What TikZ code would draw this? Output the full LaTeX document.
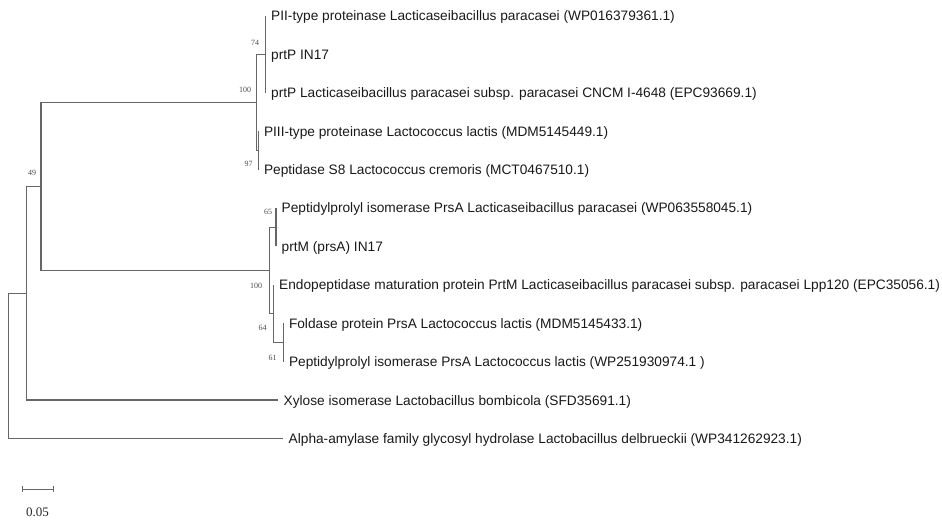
\documentclass[tikz,border=0pt]{standalone}
\usepackage{fontspec}
\setmainfont{Liberation Sans}
\newfontfamily\numserif{Liberation Serif}
\newcommand{\leaffont}{\fontsize{13.7}{16}\selectfont}
\newcommand{\bootfont}{\numserif\fontsize{8}{9}\selectfont}
\newcommand{\scalefont}{\numserif\fontsize{13}{15}\selectfont}
\tikzset{
  leaf/.style={anchor=base west, inner sep=0pt, font=\leaffont, text=black!90},
  boot/.style={inner sep=0pt, font=\bootfont, text=black!70},
  branch/.style={draw=black!60, line width=1.1pt},
}
\begin{document}
\begin{tikzpicture}[x=1pt,y=-1pt]
\useasboundingbox (0,0) rectangle (942,521);
% leaf tips
\coordinate (t1) at (265.5,16);
\coordinate (t2) at (265.5,54.4);
\coordinate (t3) at (265.5,92.8);
\coordinate (t4) at (258.3,131.2);
\coordinate (t5) at (258.3,169.6);
\coordinate (t6) at (276,208);
\coordinate (t7) at (276,246.4);
\coordinate (t8) at (273.5,284.8);
\coordinate (t9) at (283.3,323.2);
\coordinate (t10) at (283.3,361.6);
\coordinate (t11) at (278,400);
\coordinate (t12) at (283,438.4);
% internal nodes
\coordinate (n74) at (265.5,54.4);
\coordinate (n97) at (258.3,150.4);
\coordinate (n100a) at (256.5,102.4);
\coordinate (n65) at (276,227.2);
\coordinate (n61) at (283.3,342.4);
\coordinate (n64) at (273.5,313.6);
\coordinate (n100b) at (269.5,270.4);
\coordinate (n49) at (41,186.4);
\coordinate (nx) at (26.7,293.2);
\coordinate (root) at (8.3,365.8);
% branches
\draw[branch] (n74) |- (t1);
\draw[branch] (n74) |- (t2);
\draw[branch] (n74) |- (t3);
\draw[branch] (n97) |- (t4);
\draw[branch] (n97) |- (t5);
\draw[branch] (n100a) |- (n74);
\draw[branch] (n100a) |- (n97);
\draw[branch] (n65) |- (t6);
\draw[branch] (n65) |- (t7);
\draw[branch] (n61) |- (t9);
\draw[branch] (n61) |- (t10);
\draw[branch] (n64) |- (t8);
\draw[branch] (n64) |- (n61);
\draw[branch] (n100b) |- (n65);
\draw[branch] (n100b) |- (n64);
\draw[branch] (n49) |- (n100a);
\draw[branch] (n49) |- (n100b);
\draw[branch] (nx) |- (n49);
\draw[branch] (nx) |- (t11);
\draw[branch] (root) |- (nx);
\draw[branch] (root) |- (t12);
% leaf labels
\node[leaf] (l1) at ([xshift=5.5pt,yshift=-5pt]t1) {PII-type proteinase Lacticaseibacillus paracasei (WP016379361.1)};
\node[leaf] (l2) at ([xshift=5.5pt,yshift=-5pt]t2) {prtP IN17};
\node[leaf] (l3) at ([xshift=5.5pt,yshift=-5pt]t3) {prtP Lacticaseibacillus paracasei subsp. paracasei CNCM I-4648 (EPC93669.1)};
\node[leaf] (l4) at ([xshift=5.5pt,yshift=-5pt]t4) {PIII-type proteinase Lactococcus lactis (MDM5145449.1)};
\node[leaf] (l5) at ([xshift=5.5pt,yshift=-5pt]t5) {Peptidase S8 Lactococcus cremoris (MCT0467510.1)};
\node[leaf] (l6) at ([xshift=5.5pt,yshift=-5pt]t6) {Peptidylprolyl isomerase PrsA Lacticaseibacillus paracasei (WP063558045.1)};
\node[leaf] (l7) at ([xshift=5.5pt,yshift=-5pt]t7) {prtM (prsA) IN17};
\node[leaf] (l8) at ([xshift=5.5pt,yshift=-5pt]t8) {Endopeptidase maturation protein PrtM Lacticaseibacillus paracasei subsp. paracasei Lpp120 (EPC35056.1)};
\node[leaf] (l9) at ([xshift=5.5pt,yshift=-5pt]t9) {Foldase protein PrsA Lactococcus lactis (MDM5145433.1)};
\node[leaf] (l10) at ([xshift=5.5pt,yshift=-5pt]t10) {Peptidylprolyl isomerase PrsA Lactococcus lactis (WP251930974.1 )};
\node[leaf] (l11) at ([xshift=5.5pt,yshift=-5pt]t11) {Xylose isomerase Lactobacillus bombicola (SFD35691.1)};
\node[leaf] (l12) at ([xshift=5.5pt,yshift=-5pt]t12) {Alpha-amylase family glycosyl hydrolase Lactobacillus delbrueckii (WP341262923.1)};
% bootstrap values
\node[boot] (b74) at (255,43) {74};
\node[boot] (b100a) at (245,90) {100};
\node[boot] (b97) at (248.5,164) {97};
\node[boot] (b65) at (268,212) {65};
\node[boot] (b100b) at (256,286) {100};
\node[boot] (b64) at (262.5,328) {64};
\node[boot] (b61) at (272.5,358) {61};
\node[boot] (b49) at (32,173) {49};
% scale bar
\coordinate (s0) at (22,489);
\coordinate (s1) at (53,489);
\draw[branch,line width=0.9pt] (s0) -- (s1);
\draw[branch,line width=0.9pt] ([yshift=-3pt]s0) -- ([yshift=3pt]s0);
\draw[branch,line width=0.9pt] ([yshift=-3pt]s1) -- ([yshift=3pt]s1);
\node[inner sep=0pt, font=\scalefont, text=black!85] (sl) at (37.5,512) {0.05};
\end{tikzpicture}
\end{document}
